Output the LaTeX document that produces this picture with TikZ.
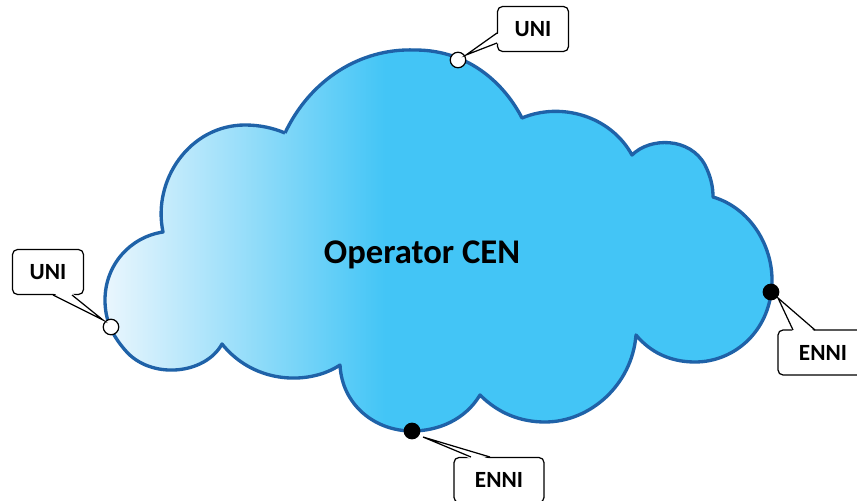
\documentclass[tikz,border=0pt]{standalone}
\usepackage{fontspec}
\setmainfont{Carlito}
\usepackage{tikz}
\usetikzlibrary{calc}

\definecolor{cloudline}{HTML}{1F62A8}
\definecolor{cloudblue}{HTML}{43C5F6}
\definecolor{cloudpale}{HTML}{EAF6FD}
\pgfdeclarehorizontalshading{cloudfade}{100bp}{color(0bp)=(cloudpale); color(25bp)=(cloudpale); color(46bp)=(cloudblue); color(100bp)=(cloudblue)}

\tikzset{
  label box/.style={draw=black,fill=white,rounded corners=0.1cm,line width=0.7pt,font=\fontsize{13.2}{15}\selectfont\bfseries,inner sep=0pt},
  uni box/.style={label box,minimum width=1.42cm,minimum height=0.9cm},
  enni box/.style={label box,minimum width=1.8cm,minimum height=0.9cm},
  port/.style={circle,draw=black,line width=0.7pt,minimum size=0.31cm,inner sep=0pt},
  tail/.style={draw=black,line width=0.7pt}
}

\begin{document}
\begin{tikzpicture}[x=0.02cm,y=-0.02cm]
\clip (0,0) rectangle (857,500);

\draw[cloudline,line width=1.9pt,shade,shading=cloudfade,line join=round] (285,133)
  .. controls (310,80) and (360,48) .. (415,50)
  .. controls (470,50) and (505,85) .. (522,118)
  .. controls (560,102) and (610,115) .. (632,155)
  .. controls (650,137) and (690,137) .. (705,165)
  .. controls (711,177) and (713,187) .. (713,197)
  .. controls (750,208) and (772,245) .. (772,280)
  .. controls (772,330) and (735,362) .. (695,362)
  .. controls (670,362) and (650,352) .. (636,335)
  .. controls (632,385) and (590,422) .. (545,422)
  .. controls (520,422) and (498,413) .. (480,395)
  .. controls (465,420) and (438,431) .. (412,431)
  .. controls (375,431) and (342,405) .. (340,365)
  .. controls (310,385) and (255,385) .. (222,344)
  .. controls (205,375) and (150,380) .. (125,350)
  .. controls (112,335) and (105,320) .. (105,300)
  .. controls (105,265) and (130,237) .. (163,232)
  .. controls (152,180) and (190,125) .. (245,125)
  .. controls (260,125) and (273,128) .. (285,133);

\node[font=\fontsize{19.7}{23}\selectfont\bfseries] (cen) at (422,255) {Operator CEN};

\node[uni box] (uniA) at (48,272) {UNI};
\node[uni box] (uniB) at (533,29) {UNI};
\node[enni box] (enniA) at (823,352.5) {ENNI};
\node[enni box] (enniB) at (499,480) {ENNI};

\node[port,fill=white] (portA) at (111,327) {};
\node[port,fill=white] (portB) at (458,60) {};
\node[port,fill=black] (portC) at (771,292) {};
\node[port,fill=black] (portD) at (412,431) {};

% callout tails
\coordinate (tipA) at (103,320);
\coordinate (tipB) at (466,55);
\coordinate (tipC) at (778,298);
\coordinate (tipD) at (423,437);

\fill[white] (53,293) -- (tipA) -- (72,293) -- cycle;
\draw[tail] (53,295) -- (tipA) -- (72,295);
\fill[white] (499,33) -- (tipB) -- (499,43) -- cycle;
\draw[tail] (497,33) -- (tipB) -- (497,43);
\fill[white] (793,332) -- (tipC) -- (815,332) -- cycle;
\draw[tail] (793,330) -- (tipC) -- (815,330);
\fill[white] (471,459) -- (tipD) -- (490,459) -- cycle;
\draw[tail] (471,457) -- (tipD) -- (490,457);
\end{tikzpicture}
\end{document}
